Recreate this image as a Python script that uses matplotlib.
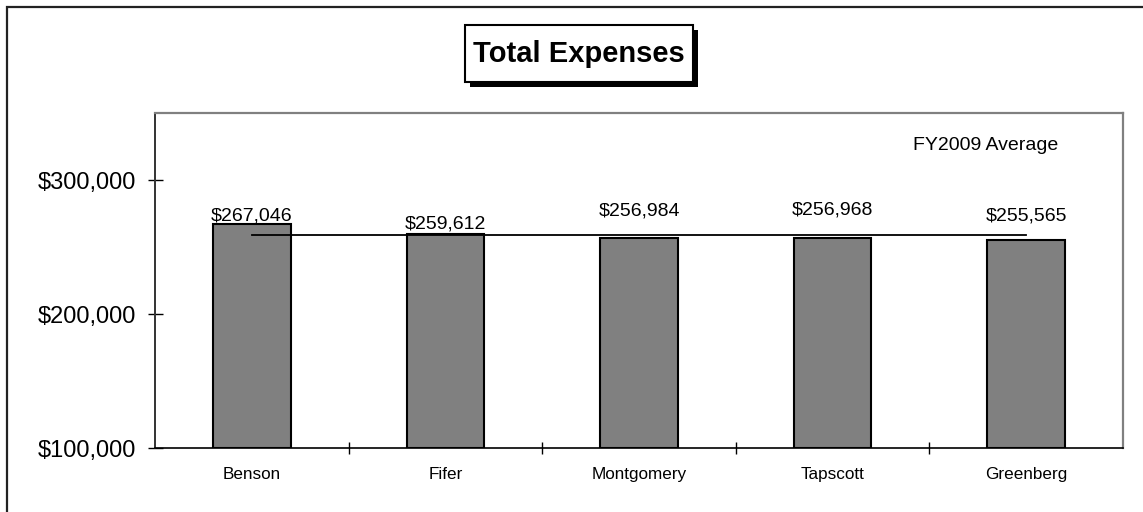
import matplotlib
matplotlib.use("Agg")
import matplotlib.pyplot as plt
from matplotlib.patches import Rectangle
from matplotlib.ticker import FixedLocator

plt.rcParams['font.family'] = ['Liberation Sans', 'DejaVu Sans']

# ---- data ----
categories = ["Benson", "Fifer", "Montgomery", "Tapscott", "Greenberg"]
expenses = [267046, 259612, 256984, 256968, 255565]
average_value = 259235
average_label = "FY2009 Average"
title = "Total Expenses"
y_ticks = [100000, 200000, 300000]
y_tick_labels = ["$100,000", "$200,000", "$300,000"]
y_min, y_max = 100000, 350000

# label offsets above bar tops (pixels) - styling only
label_offsets_px = [8, 10, 27, 28, 24]

W, H = 1143, 512
fig = plt.figure(figsize=(W / 100, H / 100), dpi=100)

# outer frame
fig.patches.append(Rectangle((6.5 / W, -0.1), 1.2, 1 - 6.5 / H + 0.1,
                             transform=fig.transFigure, fill=False,
                             edgecolor='#222222', linewidth=1.6, zorder=0))

ax = fig.add_axes([155 / W, 1 - 448 / H, (1123 - 155) / W, (448 - 113) / H])
x = list(range(len(categories)))
ax.bar(x, [v - y_min for v in expenses], bottom=y_min, width=0.4,
       color='#808080', edgecolor='black', linewidth=1.5, zorder=2)
ax.plot([x[0], x[-1]], [average_value, average_value], color='black',
        linewidth=1.3, zorder=3)

for xi, v, off in zip(x, expenses, label_offsets_px):
    ax.annotate(f"${v:,}", (xi, v), xytext=(0, off * 0.72),
                textcoords='offset points', ha='center', va='center',
                fontsize=14, zorder=4)

ax.text(0.858, 0.9015, average_label, transform=ax.transAxes,
        ha='center', va='center', fontsize=14)

ax.set_xlim(-0.5, len(categories) - 0.5)
ax.set_ylim(y_min, y_max)
ax.set_yticks(y_ticks)
ax.set_yticklabels(y_tick_labels, fontsize=17)
ax.tick_params(axis='y', direction='inout', length=10.8, width=1.0, pad=8.5)
ax.set_xticks(x)
ax.set_xticklabels(categories, fontsize=12.3)
ax.tick_params(axis='x', which='major', length=0, pad=14)
ax.xaxis.set_minor_locator(FixedLocator([i + 0.5 for i in x[:-1]]))
ax.tick_params(axis='x', which='minor', direction='inout', length=8, width=1.0)

ax.spines['top'].set_color('#808080')
ax.spines['right'].set_color('#808080')
ax.spines['top'].set_linewidth(1.6)
ax.spines['right'].set_linewidth(1.6)
ax.spines['left'].set_color('#333333')
ax.spines['left'].set_linewidth(1.4)
ax.spines['bottom'].set_color('black')
ax.spines['bottom'].set_linewidth(1.2)

# title box with shadow
bx0, by0, bx1, by1 = 465, 25, 693, 82
sh = 5
fig.patches.append(Rectangle(((bx0 + sh) / W, 1 - (by1 + sh) / H),
                             (bx1 - bx0) / W, (by1 - by0) / H,
                             transform=fig.transFigure, facecolor='black',
                             edgecolor='black', linewidth=0, zorder=5))
fig.patches.append(Rectangle((bx0 / W, 1 - by1 / H),
                             (bx1 - bx0) / W, (by1 - by0) / H,
                             transform=fig.transFigure, facecolor='white',
                             edgecolor='black', linewidth=1.5, zorder=6))
fig.text((bx0 + bx1) / 2 / W, 1 - (by0 + by1) / 2 / H, title,
         ha='center', va='center', fontsize=21, fontweight='bold', zorder=7)

fig.savefig("out.png", dpi=100)
